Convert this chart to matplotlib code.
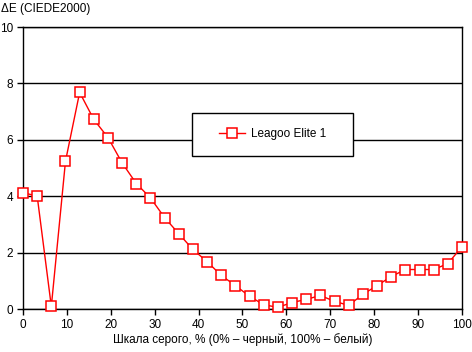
import numpy as np
import matplotlib
matplotlib.use("Agg")
import matplotlib.pyplot as plt
from matplotlib.patches import Rectangle

plt.rcParams['font.family'] = ['Liberation Sans', 'DejaVu Sans']

# grey scale steps, % (32 steps from black to white)
gray = np.linspace(0, 100, 32)
delta_e = [4.12, 4.01, 0.09, 5.24, 7.68, 6.72, 6.08, 5.18, 4.45, 3.94,
           3.24, 2.67, 2.11, 1.68, 1.19, 0.83, 0.45, 0.15, 0.06, 0.23,
           0.34, 0.48, 0.27, 0.13, 0.52, 0.83, 1.15, 1.40, 1.40, 1.40,
           1.61, 2.21]
series_name = "Leagoo Elite 1"
x_ticks = list(range(0, 101, 10))
y_ticks = list(range(0, 11, 2))

fig = plt.figure(figsize=(4.72, 3.52), dpi=100)
ax = fig.add_axes([23 / 472, 1 - 309 / 352, 439 / 472, 282 / 352])

ax.plot(gray, delta_e, color='#ff0000', lw=1, marker='s', ms=6.5,
        mfc='white', mec='#ff0000', mew=1.1, label=series_name,
        zorder=3, clip_on=False)

ax.set_xlim(0, 100)
ax.set_ylim(0, 10)
ax.set_xticks(x_ticks)
ax.set_yticks(y_ticks)
ax.yaxis.grid(True, color='black', lw=1)
ax.set_axisbelow(True)
for s in ax.spines.values():
    s.set_color('black')
    s.set_linewidth(1)
ax.tick_params(axis='both', direction='out', length=4, width=1,
               labelsize=8.5, colors='black', pad=3)

ax.set_xlabel("Шкала серого, % (0% – черный, 100% – белый)",
              fontsize=8.5, labelpad=2)
fig.text(1 / 472, 1 - 3 / 352, "ΔE (CIEDE2000)", fontsize=8.5,
         ha='left', va='top')

# legend box (white, black border) with the legend drawn inside it
box = (0.385, 0.543, 0.367, 0.152)
ax.add_patch(Rectangle(box[:2], box[2], box[3], transform=ax.transAxes,
                       facecolor='white', edgecolor='black', lw=1,
                       zorder=4, clip_on=False))
leg = ax.legend(loc='center', bbox_to_anchor=box, fontsize=8.5,
                frameon=False, handlelength=2.2, handletextpad=0.5)
leg.set_zorder(5)

fig.savefig("out.png", dpi=100)
